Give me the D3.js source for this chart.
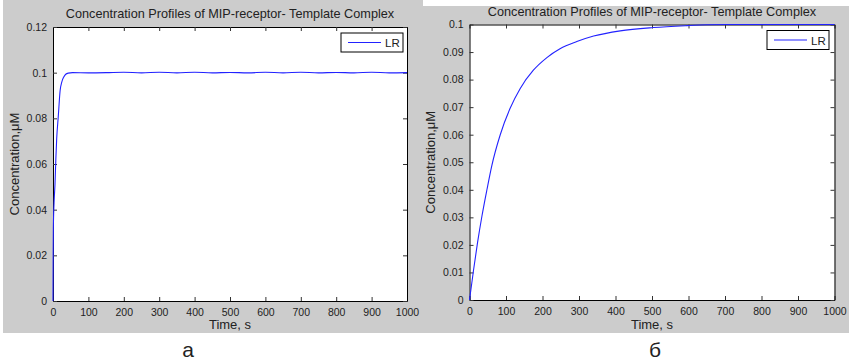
<!DOCTYPE html>
<html>
<head>
<meta charset="utf-8">
<script src="https://cdn.jsdelivr.net/npm/d3@7"></script>
<style>
  body { margin: 0; background: #fff; }
  svg text { font-family: "Liberation Sans", Arial, sans-serif; fill: #222; }
</style>
</head>
<body>
<svg id="chart" width="849" height="361"></svg>
<script>
// tick labels
var timeTicks = [0, 100, 200, 300, 400, 500, 600, 700, 800, 900, 1000];
var leftYTicks = [0, 0.02, 0.04, 0.06, 0.08, 0.1, 0.12];
var rightYTicks = [0, 0.01, 0.02, 0.03, 0.04, 0.05, 0.06, 0.07, 0.08, 0.09, 0.1];

// panel a: LR, fast rise
var leftT  = [0, 0.5, 1, 3, 5.6, 8, 10.4, 15, 20, 25, 30, 36, 43, 55, 100, 150, 200, 250, 300, 350, 400, 450, 500, 550, 600, 650, 700, 750, 800, 850, 900, 950, 1000];
var leftLR = [0, 0.02, 0.032, 0.043, 0.051, 0.062, 0.071, 0.081, 0.092, 0.096, 0.098, 0.0993, 0.0998, 0.1, 0.0999, 0.1, 0.1002, 0.0999, 0.1002, 0.0999, 0.1002, 0.0999, 0.1001, 0.0999, 0.1002, 0.0999, 0.1002, 0.0999, 0.1001, 0.0999, 0.1002, 0.0999, 0.1];

// panel б: LR, slow rise
var rightT  = [0, 11, 22, 34, 48, 61, 84, 111, 139, 175, 212, 248, 294, 340, 413, 504, 596, 650, 700, 800, 900, 1000];
var rightLR = [0, 0.0108, 0.0208, 0.0304, 0.0402, 0.0487, 0.0599, 0.0695, 0.0768, 0.0834, 0.088, 0.0912, 0.0938, 0.0958, 0.0977, 0.0989, 0.0996, 0.0999, 0.1, 0.1, 0.1, 0.1];

var title = "Concentration Profiles of MIP-receptor- Template Complex";

var svg = d3.select("#chart");

// figure backgrounds
svg.append("rect").attr("x", 3).attr("y", 0).attr("width", 420).attr("height", 333).attr("fill", "#cccccc");
svg.append("rect").attr("x", 423).attr("y", 6).attr("width", 426).attr("height", 327).attr("fill", "#cccccc");

function drawPanel(p) {
  var x = d3.scaleLinear().domain([0, 1000]).range([p.left, p.right]);
  var y = d3.scaleLinear().domain([0, p.ymax]).range([p.bottom, p.top]);
  var tk = 4;

  svg.append("rect")
    .attr("x", p.left).attr("y", p.top)
    .attr("width", p.right - p.left).attr("height", p.bottom - p.top)
    .attr("fill", "#fff");

  // axes, ticks pointing inward like matlab
  var axB = svg.append("g").attr("transform", "translate(0," + p.bottom + ")")
    .call(d3.axisBottom(x).tickValues(timeTicks).tickSizeInner(-tk).tickSizeOuter(0).tickPadding(8).tickFormat(d3.format("d")));
  var axT = svg.append("g").attr("transform", "translate(0," + p.top + ")")
    .call(d3.axisTop(x).tickValues(timeTicks).tickSizeInner(-tk).tickSizeOuter(0).tickFormat(""));
  var axL = svg.append("g").attr("transform", "translate(" + p.left + ",0)")
    .call(d3.axisLeft(y).tickValues(p.yticks).tickSizeInner(-tk).tickSizeOuter(0).tickPadding(6).tickFormat(d3.format("~g")));
  var axR = svg.append("g").attr("transform", "translate(" + p.right + ",0)")
    .call(d3.axisRight(y).tickValues(p.yticks).tickSizeInner(-tk).tickSizeOuter(0).tickFormat(""));

  [axB, axT, axL, axR].forEach(function(g) {
    g.select(".domain").attr("stroke", "#000");
    g.selectAll(".tick line").attr("stroke", "#333");
    g.selectAll("text").attr("font-size", 10.5).attr("font-family", "Liberation Sans, Arial, sans-serif").attr("fill", "#111");
  });
  axB.selectAll("text").attr("dy", "0.71em");

  var line = d3.line().curve(d3.curveMonotoneX)
    .x(function(d) { return x(d[0]); }).y(function(d) { return y(d[1]); });
  svg.append("path")
    .datum(d3.zip(p.t, p.v))
    .attr("d", line)
    .attr("fill", "none")
    .attr("stroke", "#2222ff")
    .attr("stroke-width", 1.1);

  // legend
  var lg = svg.append("g");
  lg.append("rect").attr("x", p.legX).attr("y", p.top + 6).attr("width", 62).attr("height", 19)
    .attr("fill", "#fff").attr("stroke", "#000");
  lg.append("line").attr("x1", p.legX + 7).attr("x2", p.legX + 40)
    .attr("y1", p.top + 15.5).attr("y2", p.top + 15.5)
    .attr("stroke", "#2222ff").attr("stroke-width", 1.1);
  lg.append("text").attr("x", p.legX + 44).attr("y", p.top + 20).attr("font-size", 11.5).text("LR");

  svg.append("text").attr("x", (p.left + p.right) / 2).attr("y", p.top - 9)
    .attr("text-anchor", "middle").attr("font-size", 12.7).text(title);
  svg.append("text").attr("x", (p.left + p.right) / 2).attr("y", 329)
    .attr("text-anchor", "middle").attr("font-size", 13).text("Time, s");
  svg.append("text")
    .attr("transform", "translate(" + p.ylabX + "," + ((p.top + p.bottom) / 2) + ") rotate(-90)")
    .attr("text-anchor", "middle").attr("font-size", 13).text("Concentration,\u03bcM");

  svg.append("text").attr("x", p.capX).attr("y", 357)
    .attr("text-anchor", "middle")
    .attr("font-family", "Liberation Serif, Times New Roman, serif")
    .attr("font-size", 21).attr("fill", "#000").text(p.caption);
}

drawPanel({ left: 53, right: 407, top: 27, bottom: 301, ymax: 0.12, yticks: leftYTicks,
  t: leftT, v: leftLR, legX: 341, ylabX: 19, capX: 188, caption: "а" });
drawPanel({ left: 469.5, right: 834.5, top: 24.5, bottom: 300, ymax: 0.1, yticks: rightYTicks,
  t: rightT, v: rightLR, legX: 767, ylabX: 435, capX: 655, caption: "б" });
</script>
</body>
</html>
